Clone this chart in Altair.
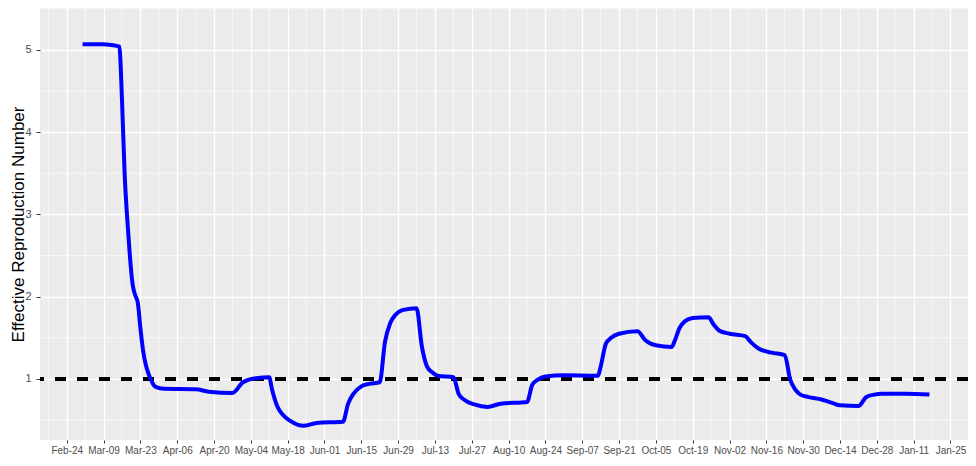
import altair as alt
import pandas as pd

# ---- data ----
dates = [
    "2020-03-01", "2020-03-09", "2020-03-12", "2020-03-15", "2020-03-16", "2020-03-17",
    "2020-03-18", "2020-03-19", "2020-03-20", "2020-03-21", "2020-03-22", "2020-03-23",
    "2020-03-24", "2020-03-25", "2020-03-26", "2020-03-27", "2020-03-28", "2020-03-29",
    "2020-04-01", "2020-04-13", "2020-04-18", "2020-04-27", "2020-05-01", "2020-05-03",
    "2020-05-06", "2020-05-11", "2020-05-12", "2020-05-14", "2020-05-16", "2020-05-19",
    "2020-05-24", "2020-05-29", "2020-06-08", "2020-06-10", "2020-06-12", "2020-06-15",
    "2020-06-18", "2020-06-22", "2020-06-24", "2020-06-26", "2020-06-28", "2020-07-01",
    "2020-07-06", "2020-07-08", "2020-07-10", "2020-07-12", "2020-07-14", "2020-07-20",
    "2020-07-22", "2020-07-24", "2020-07-28", "2020-08-02", "2020-08-07", "2020-08-17",
    "2020-08-19", "2020-08-21", "2020-08-24", "2020-08-31", "2020-09-13", "2020-09-14",
    "2020-09-16", "2020-09-18", "2020-09-21", "2020-09-28", "2020-10-01", "2020-10-03",
    "2020-10-05", "2020-10-11", "2020-10-12", "2020-10-14", "2020-10-16", "2020-10-19",
    "2020-10-25", "2020-10-27", "2020-10-29", "2020-11-02", "2020-11-08", "2020-11-10",
    "2020-11-13", "2020-11-18", "2020-11-23", "2020-11-25", "2020-11-27", "2020-11-29",
    "2020-12-02", "2020-12-07", "2020-12-09", "2020-12-11", "2020-12-14", "2020-12-21",
    "2020-12-24", "2020-12-27", "2020-12-30", "2021-01-08", "2021-01-17",
]
rt = [
    5.07, 5.07, 5.06, 5.04, 4.40, 3.50,
    2.95, 2.50, 2.16, 2.02, 1.93, 1.62,
    1.35, 1.18, 1.07, 0.99, 0.93, 0.90,
    0.88, 0.875, 0.845, 0.83, 0.96, 0.99,
    1.01, 1.02, 0.88, 0.67, 0.57, 0.49,
    0.43, 0.465, 0.48, 0.70, 0.82, 0.91,
    0.94, 0.96, 1.45, 1.68, 1.78, 1.84,
    1.86, 1.40, 1.15, 1.08, 1.04, 1.02,
    0.82, 0.75, 0.69, 0.66, 0.70, 0.72,
    0.93, 0.99, 1.03, 1.045, 1.04, 1.15,
    1.43, 1.50, 1.55, 1.58, 1.47, 1.43,
    1.41, 1.39, 1.45, 1.62, 1.70, 1.74,
    1.75, 1.66, 1.59, 1.55, 1.52, 1.45,
    1.37, 1.32, 1.29, 1.00, 0.87, 0.81,
    0.78, 0.75, 0.73, 0.71, 0.68, 0.67,
    0.78, 0.81, 0.82, 0.82, 0.81,
]

tick_dates = [
    "2020-02-24", "2020-03-09", "2020-03-23", "2020-04-06", "2020-04-20", "2020-05-04",
    "2020-05-18", "2020-06-01", "2020-06-15", "2020-06-29", "2020-07-13", "2020-07-27",
    "2020-08-10", "2020-08-24", "2020-09-07", "2020-09-21", "2020-10-05", "2020-10-19",
    "2020-11-02", "2020-11-16", "2020-11-30", "2020-12-14", "2020-12-28", "2021-01-11",
    "2021-01-25",
]
minor_x_dates = [
    "2020-02-17", "2020-03-02", "2020-03-16", "2020-03-30", "2020-04-13", "2020-04-27",
    "2020-05-11", "2020-05-25", "2020-06-08", "2020-06-22", "2020-07-06", "2020-07-20",
    "2020-08-03", "2020-08-17", "2020-08-31", "2020-09-14", "2020-09-28", "2020-10-12",
    "2020-10-26", "2020-11-09", "2020-11-23", "2020-12-07", "2020-12-21", "2021-01-04",
    "2021-01-18",
]
y_ticks = [1, 2, 3, 4, 5]
minor_y = [0.5, 1.5, 2.5, 3.5, 4.5, 5.5]
threshold = [1]

x_domain = ["2020-02-13T20:00", "2021-01-31T16:00"]
y_domain = [0.258, 5.51]

def ms(d):
    return int(pd.Timestamp(d, tz="UTC").value // 10**6)

df = pd.DataFrame({"date": dates, "rt": rt})
minor_x_df = pd.DataFrame({"date": minor_x_dates})
minor_y_df = pd.DataFrame({"y": minor_y})
thr_df = pd.DataFrame({"y": threshold})

xscale = alt.Scale(type="utc", domain=[ms(d) for d in x_domain], nice=False)
yscale = alt.Scale(domain=y_domain, nice=False, zero=False)

x_axis = alt.Axis(
    values=[ms(d) for d in tick_dates],
    labelExpr="utcFormat(datum.value, '%b-%d')",
    title=None,
    grid=True, gridColor="white", gridWidth=1.3,
    domain=False, tickColor="#333333", tickSize=3, tickWidth=1,
    labelColor="#4D4D4D", labelFontSize=10, labelFont="Liberation Sans",
    labelPadding=2, labelOverlap=False,
)
y_axis = alt.Axis(
    values=y_ticks,
    title="Effective Reproduction Number",
    titleFontSize=17, titleFontWeight="normal", titleColor="black",
    titleFont="Liberation Sans",
    titleX=-22, titleY=216, titleAlign="center", titleBaseline="middle", titleAngle=270,
    grid=True, gridColor="white", gridWidth=1.3,
    domain=False, tickColor="#333333", tickSize=4, tickWidth=1,
    labelColor="#4D4D4D", labelFontSize=11, labelFont="Liberation Sans",
    labelPadding=5,
)

minor_x = alt.Chart(minor_x_df).mark_rule(color="white", strokeWidth=0.6).encode(
    x=alt.X("date:T", scale=xscale, axis=x_axis)
)
minor_y_layer = alt.Chart(minor_y_df).mark_rule(color="white", strokeWidth=0.6).encode(
    y=alt.Y("y:Q", scale=yscale, axis=y_axis)
)
thr = alt.Chart(thr_df).mark_rule(color="black", strokeWidth=4, strokeDash=[11, 11]).encode(
    y=alt.Y("y:Q", scale=yscale, axis=y_axis)
)
line = alt.Chart(df).mark_line(color="#0000FF", strokeWidth=4, interpolate="monotone").encode(
    x=alt.X("date:T", scale=xscale, axis=x_axis),
    y=alt.Y("rt:Q", scale=yscale, axis=y_axis),
)

chart = alt.layer(minor_x, minor_y_layer, thr, line).properties(
    width=928, height=432,
    autosize=alt.AutoSizeParams(type="none"),
    padding={"left": 32, "top": 0, "right": 0, "bottom": 18},
    background="white",
).configure_view(fill="#EBEBEB", stroke=None)

chart.save("out.html", embed_options={"renderer": "svg", "actions": False})
